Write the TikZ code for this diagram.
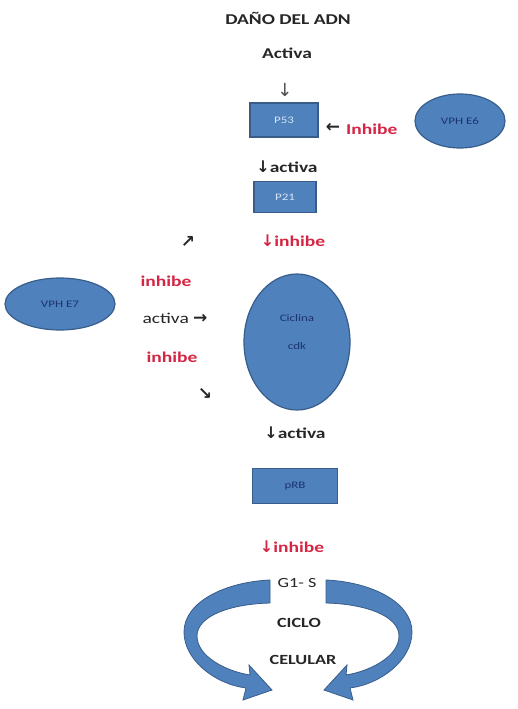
\documentclass[tikz,border=0pt]{standalone}
\usepackage{fontspec}
\setmainfont{Carlito}[FakeStretch=1.3]
\newfontfamily\arrfont{DejaVu Sans}
\usetikzlibrary{shapes.geometric}
\definecolor{boxfill}{RGB}{79,129,189}
\definecolor{boxline}{RGB}{56,93,138}
\definecolor{inh}{RGB}{212,38,68}
\definecolor{lbl}{RGB}{28,52,110}
\definecolor{lightlbl}{RGB}{215,228,245}
\tikzset{
  txt/.style={inner sep=0pt, font=\fontsize{15}{17}\selectfont\bfseries, text=black!85},
  redtxt/.style={txt, text=inh},
  arrw/.style={inner sep=0pt, font=\arrfont\fontsize{17}{19}\selectfont\bfseries, text=black!85},
  bluebox/.style={draw=boxline, fill=boxfill, line width=1.4pt, rectangle, inner sep=0pt, font=\fontsize{10}{11}\selectfont, text=lightlbl},
  blueell/.style={draw=boxline, fill=boxfill, line width=1.2pt, ellipse, inner sep=0pt, font=\fontsize{10}{11}\selectfont, text=lbl},
  band/.style={fill=boxfill, draw=boxline, line width=0.8pt}
}
\begin{document}
\begin{tikzpicture}[x=1pt,y=-1pt]
\useasboundingbox[fill=white] (0,0) rectangle (517,709);

\node[txt] (dano) at (288,18) {DAÑO DEL ADN};
\node[txt] (activa0) at (287,53) {Activa};
\node[inner sep=0pt, font=\arrfont\fontsize{18}{20}\selectfont, text=black!70] (a0) at (285,90) {↓};

\node[bluebox, minimum width=68, minimum height=34] (p53) at (284,120) {P53};
\node[arrw] (a1) at (333,128) {←};
\node[redtxt, anchor=west] (inh1) at (346,129) {Inhibe};
\node[blueell, minimum width=90, minimum height=54] (e6) at (460,121) {VPH E6};

\node[txt] (act1) at (287,167) {{\arrfont\fontsize{16}{17}\selectfont↓}activa};
\node[bluebox, minimum width=62, minimum height=31] (p21) at (285,197) {P21};

\node[arrw] (ne) at (188,242) {↗};
\node[redtxt] (inh2) at (293,241) {{\arrfont\fontsize{16}{17}\selectfont↓}inhibe};

\node[blueell, minimum width=110, minimum height=52] (e7) at (60,304) {VPH E7};
\node[redtxt] (inh3) at (166,281) {inhibe};
\node[txt, font=\fontsize{15}{17}\selectfont\mdseries] (act2) at (175,318) {activa {\arrfont\fontsize{17}{19}\selectfont\bfseries→}};
\node[redtxt] (inh4) at (172,357) {inhibe};
\node[arrw] (se) at (205,394) {↘};

\node[blueell, minimum width=106, minimum height=136] (cic) at (297,342) {};
\node[inner sep=0pt, font=\fontsize{10}{11}\selectfont, text=lbl] (cicl) at (297,318) {Ciclina};
\node[inner sep=0pt, font=\fontsize{10}{11}\selectfont, text=lbl] (cdk) at (297,346) {cdk};

\node[txt] (act3) at (295,433) {{\arrfont\fontsize{16}{17}\selectfont↓}activa};
\node[bluebox, minimum width=85, minimum height=35, text=lbl] (prb) at (295,486) {pRB};
\node[redtxt] (inh5) at (292,547) {{\arrfont\fontsize{16}{17}\selectfont↓}inhibe};

% cycle arrows
\def\cyclearrow{%
  (270,580) .. controls (225,582) and (184,602) .. (184,632)
  .. controls (184,660) and (215,684) .. (246,688)
  -- (243,700) -- (272,690) -- (249,665) -- (250,675)
  .. controls (225,671) and (197,656) .. (197,636)
  .. controls (197,616) and (230,604) .. (270,603) -- cycle}
\path[band] \cyclearrow;
\begin{scope}[shift={(596,0)}, xscale=-1]
\path[band] \cyclearrow;
\end{scope}
\node[inner sep=0pt, font=\fontsize{14}{16}\selectfont, text=black!85] (g1s) at (297,583) {G1- S};
\node[txt, font=\fontsize{14}{16}\selectfont\bfseries] (ciclo) at (299,623) {CICLO};
\node[txt, font=\fontsize{14}{16}\selectfont\bfseries] (celular) at (303,660) {CELULAR};
\end{tikzpicture}
\end{document}
